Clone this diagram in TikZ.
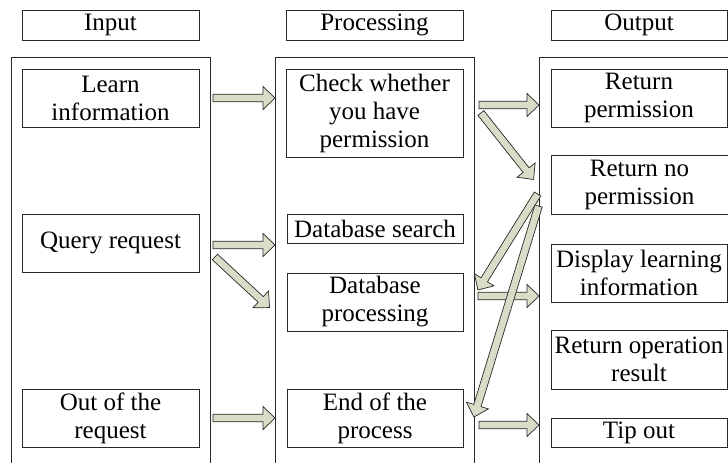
\documentclass[tikz,border=0pt]{standalone}
\usepackage{fontspec}
\setmainfont{Liberation Serif}
\usetikzlibrary{calc}
\definecolor{arrfill}{RGB}{217,221,200}
\definecolor{edge}{RGB}{40,40,40}
\tikzset{
  box/.style={draw=edge, line width=0.9pt, inner sep=0pt, align=center, font=\fontsize{25}{28}\selectfont},
  colbox/.style={draw=edge, line width=0.9pt, inner sep=0pt, anchor=north west},
  blkstyle/.style={draw=edge, fill=arrfill, line width=0.7pt, line join=miter}
}
\newcommand{\blkarrow}[2]{%
  \draw[blkstyle] let \p1=#1, \p2=#2, \n1={atan2(\y2-\y1,\x2-\x1)},
    \p3=($(\p2)+(\n1:-12pt)$) in
    ($(\p1)+(\n1+90:3.8pt)$) -- ($(\p3)+(\n1+90:3.8pt)$) -- ($(\p3)+(\n1+90:11.5pt)$)
    -- (\p2) -- ($(\p3)+(\n1-90:11.5pt)$) -- ($(\p3)+(\n1-90:3.8pt)$)
    -- ($(\p1)+(\n1-90:3.8pt)$) -- cycle;}
\begin{document}
\begin{tikzpicture}[x=1pt,y=-1pt]
\useasboundingbox (0,0) rectangle (728,463);
% headers
\node[box, minimum width=177pt, minimum height=30pt] (hin) at (110.5,25) {Input};
\node[box, minimum width=177pt, minimum height=30pt] (hproc) at (374.5,25) {Processing};
\node[box, minimum width=176pt, minimum height=30pt] (hout) at (639,25) {Output};
% columns
\node[colbox, minimum width=199pt, minimum height=420pt] (incol) at (11,57) {};
\node[colbox, minimum width=199pt, minimum height=420pt] (proccol) at (275,57) {};
\node[colbox, minimum width=192pt, minimum height=420pt] (outcol) at (539,57) {};
% input boxes
\node[box, minimum width=177pt, minimum height=58pt] (learn) at (110.5,98) {Learn\\information};
\node[box, minimum width=177pt, minimum height=58pt] (query) at (110.5,243) {Query request};
\node[box, minimum width=177pt, minimum height=58pt] (outreq) at (110.5,418) {Out of the\\request};
% processing boxes
\node[box, minimum width=177pt, minimum height=88pt] (check) at (374.5,113) {Check whether\\you have\\permission};
\node[box, minimum width=176pt, minimum height=29pt] (dbsearch) at (375,228.5) {Database search};
\node[box, minimum width=176pt, minimum height=58pt] (dbproc) at (375,302) {Database\\processing};
\node[box, minimum width=176pt, minimum height=58pt] (endproc) at (375,418) {End of the\\process};
% output boxes
\node[box, minimum width=176pt, minimum height=58pt] (retperm) at (639,98) {Return\\permission};
\node[box, minimum width=177pt, minimum height=59pt] (retnoperm) at (639.5,184.5) {Return no\\permission};
\node[box, minimum width=176pt, minimum height=58pt] (display) at (639,273) {Display learning\\information};
\node[box, minimum width=176pt, minimum height=59pt] (retop) at (639,359.5) {Return operation\\result};
\node[box, minimum width=176pt, minimum height=29pt] (tipout) at (639,432.5) {Tip out};
% arrows
\blkarrow{($(incol.east |- learn)+(2,0)$)}{(proccol.west |- learn)}
\blkarrow{($(incol.east |- query)+(2,2)$)}{($(proccol.west |- query)+(0,2)$)}
\blkarrow{($(incol.east |- query)+(4,14)$)}{($(dbproc.north west)+(-17,35)$)}
\blkarrow{($(incol.east |- outreq)+(2,0)$)}{(proccol.west |- outreq)}
\blkarrow{($(proccol.east |- retperm)+(4,7)$)}{($(outcol.west |- retperm)+(0,7)$)}
\blkarrow{($(proccol.east |- check)+(6,0)$)}{($(retnoperm.west)+(-17,-5)$)}
\blkarrow{($(proccol.east |- dbproc)+(3,-6)$)}{($(outcol.west |- dbproc)+(0,-6)$)}
\blkarrow{($(proccol.east |- endproc)+(4,7)$)}{($(outcol.west |- endproc)+(0,7)$)}
\blkarrow{($(retnoperm.west)+(-13,9.5)$)}{($(proccol.east |- dbproc)+(3,-12)$)}
\blkarrow{($(retnoperm.west)+(-12,21.5)$)}{($(proccol.east |- endproc)+(-1,-1)$)}
\end{tikzpicture}
\end{document}
